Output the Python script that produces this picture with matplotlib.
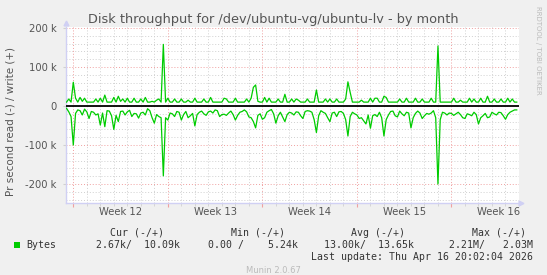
import numpy as np
import matplotlib
matplotlib.use('Agg')
import matplotlib.pyplot as plt
from matplotlib.patches import Rectangle

# values in k bytes/s, one sample every 4 hours, starting half a day before week 12
write_k = [10, 18, 10, 61, 20, 10, 22, 12, 20, 10, 10, 10, 10, 18, 10, 20, 10, 28, 10, 10,
           10, 22, 10, 25, 12, 18, 10, 20, 10, 10, 20, 10, 10, 18, 10, 22, 10, 10, 12, 10,
           15, 18, 10, 158, 10, 20, 10, 10, 18, 10, 10, 18, 10, 10, 15, 10, 10, 20, 10, 10,
           10, 18, 10, 10, 22, 10, 10, 10, 10, 10, 20, 18, 10, 10, 10, 20, 10, 10, 10, 10,
           18, 10, 20, 48, 54, 12, 10, 10, 22, 10, 20, 10, 10, 10, 18, 10, 10, 30, 10, 10,
           18, 10, 18, 15, 10, 10, 10, 18, 10, 10, 10, 41, 10, 10, 10, 18, 10, 18, 10, 10,
           18, 10, 10, 10, 18, 62, 35, 10, 10, 10, 10, 15, 10, 10, 10, 20, 10, 20, 20, 10,
           10, 25, 22, 10, 10, 10, 10, 10, 18, 10, 10, 20, 10, 10, 10, 20, 10, 10, 18, 10,
           10, 10, 20, 10, 10, 154, 10, 10, 10, 10, 10, 10, 20, 10, 10, 15, 10, 10, 10, 20,
           10, 18, 10, 10, 20, 10, 10, 25, 10, 10, 18, 10, 10, 18, 10, 10, 20, 10, 18, 10,
           10]
read_k = [-6, -15, -27, -100, -19, -10, -12, -23, -8, -15, -32, -14, -16, -23, -20, -49, -18, -53, -12, -13,
          -25, -60, -24, -40, -14, -13, -23, -15, -11, -27, -19, -20, -31, -18, -16, -23, -7, -12, -30, -44,
          -22, -27, -30, -179, -30, -36, -18, -20, -27, -14, -16, -36, -22, -14, -30, -25, -19, -51, -22, -16,
          -13, -20, -24, -15, -13, -18, -10, -12, -27, -22, -21, -24, -18, -13, -22, -36, -24, -16, -14, -10,
          -15, -28, -30, -40, -56, -24, -20, -34, -30, -16, -12, -9, -20, -44, -25, -16, -28, -40, -22, -16,
          -18, -23, -15, -16, -25, -32, -14, -12, -13, -16, -35, -68, -25, -12, -16, -19, -30, -40, -18, -16,
          -27, -15, -14, -19, -35, -77, -27, -16, -20, -23, -32, -30, -38, -46, -23, -57, -25, -22, -27, -16,
          -30, -77, -35, -23, -14, -13, -25, -28, -13, -20, -25, -16, -18, -56, -30, -19, -13, -18, -32, -25,
          -19, -21, -18, -12, -30, -200, -35, -16, -18, -23, -18, -19, -24, -20, -16, -22, -30, -32, -20, -22,
          -25, -16, -22, -46, -30, -25, -19, -30, -28, -16, -20, -23, -16, -17, -25, -34, -22, -16, -13, -10,
          -10]
week_labels = ['Week 12', 'Week 13', 'Week 14', 'Week 15', 'Week 16']
y_ticks = [-200, -100, 0, 100, 200]
y_tick_labels = ['-200 k', '-100 k', '0', '100 k', '200 k']

legend_headers = ['Cur (-/+)', 'Min (-/+)', 'Avg (-/+)', 'Max (-/+)']
legend_values = ['2.67k/  10.09k', '0.00 /    5.24k', '13.00k/  13.65k', '2.21M/   2.03M']
last_update = 'Last update: Thu Apr 16 20:02:04 2026'

W, H = 547, 275
days = -0.5 + np.arange(len(write_k)) / 6.0

fig = plt.figure(figsize=(W / 100, H / 100), dpi=100, facecolor='#F0F0F0')
ax = fig.add_axes([66 / W, 1 - 203 / H, (519 - 66) / W, (203 - 27) / H])
ax.set_facecolor('white')
ax.set_xlim(-0.54, 33.0)
ax.set_ylim(-248.7, 202.6)

# grid: daily / 20k minor, weekly / 100k major
for d in range(0, 34):
    if d % 7 == 0:
        continue
    ax.axvline(d, color='#D0D0D0', lw=0.7, ls=(0, (1, 2)), zorder=1)
for v in range(-240, 201, 20):
    if v % 100 == 0:
        continue
    ax.axhline(v, color='#D0D0D0', lw=0.7, ls=(0, (1, 2)), zorder=1)
for d in range(0, 34, 7):
    ax.axvline(d, color='#F0A0A0', lw=0.7, ls=(0, (1, 2)), zorder=1)
for v in y_ticks:
    ax.axhline(v, color='#F0A0A0', lw=0.7, ls=(0, (1, 2)), zorder=1)

ax.plot(days, read_k, color='#00CC00', lw=0.9, zorder=3)
ax.plot(days, write_k, color='#00CC00', lw=0.9, zorder=3)
ax.axhline(0, color='black', lw=1.3, zorder=4)

for s in ax.spines.values():
    s.set_visible(False)
axis_col = '#D0D0F4'
ax.plot([0, 0], [0, 1], transform=ax.transAxes, color=axis_col, lw=1, clip_on=False)
ax.plot([0, 1], [0, 0], transform=ax.transAxes, color=axis_col, lw=1, clip_on=False)
ax.plot([0], [1.02], transform=ax.transAxes, marker='^', color=axis_col, ms=3.5, clip_on=False)
ax.plot([1.005], [0], transform=ax.transAxes, marker='>', color=axis_col, ms=3.5, clip_on=False)

ax.set_yticks(y_ticks)
ax.set_yticklabels(y_tick_labels)
ax.set_xticks(range(0, 34, 7))
ax.set_xticklabels([])
ax.set_xticks(range(0, 34), minor=True)
ax.tick_params(axis='y', length=2, color='#D0D0D0', pad=5, labelsize=7.2, labelcolor='#555555')
ax.tick_params(axis='x', which='major', length=3, color='#F0A0A0')
ax.tick_params(axis='x', which='minor', length=2, color='#D0D0D0')
for k, lab in enumerate(week_labels):
    ax.text(3.5 + 7 * k, -0.05, lab, transform=ax.get_xaxis_transform(), ha='center', va='center',
            fontsize=7.2, color='#555555')

fig.text(0.5, 1 - 19 / H, 'Disk throughput for /dev/ubuntu-vg/ubuntu-lv - by month', ha='center',
         va='center', fontsize=9.3, color='#555555')
fig.text(10.5 / W, 1 - 122 / H, 'Pr second read (-) / write (+)', rotation=90, ha='center',
         va='center', fontsize=7.5, color='#555555')
fig.text(538 / W, 1 - 50 / H, 'RRDTOOL / TOBI OETIKER', rotation=270, ha='center', va='center',
         fontsize=5, color='#BBBBBB')

# legend block
mono = 'DejaVu Sans Mono'
head_right = [164, 285, 405, 526]
val_right = [180, 298, 414, 533]
for txt, xr in zip(legend_headers, head_right):
    fig.text(xr / W, 1 - 232.5 / H, txt, ha='right', va='center', family=mono, fontsize=7.1, color='#333333')
for txt, xr in zip(legend_values, val_right):
    fig.text(xr / W, 1 - 245 / H, txt, ha='right', va='center', family=mono, fontsize=7.1, color='#333333')
fig.add_artist(Rectangle((14 / W, 1 - 247.5 / H), 5.5 / W, 5.5 / H, transform=fig.transFigure,
                         facecolor='#00CC00', edgecolor='none'))
fig.text(26 / W, 1 - 245 / H, 'Bytes', ha='left', va='center', family=mono, fontsize=7.1, color='#333333')
fig.text(533 / W, 1 - 257.5 / H, last_update, ha='right', va='center', family=mono, fontsize=7.1,
         color='#333333')
fig.text(273 / W, 1 - 270.5 / H, 'Munin 2.0.67', ha='center', va='center', fontsize=6, color='#BBBBBB')

fig.savefig('out.png', dpi=100, facecolor=fig.get_facecolor())
